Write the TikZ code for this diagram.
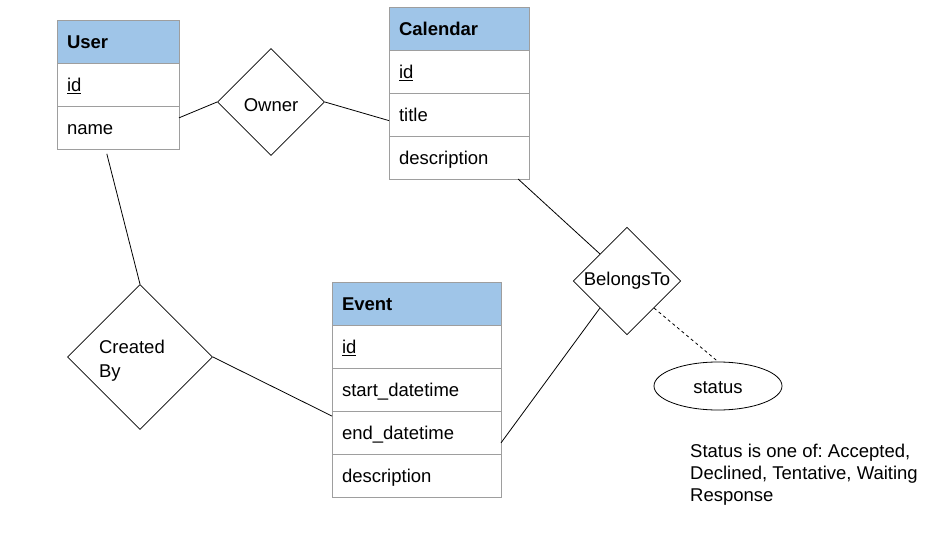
\documentclass[tikz,border=0pt]{standalone}
\usepackage{fontspec}
\setmainfont{Liberation Sans}
\usetikzlibrary{positioning,shapes.geometric}
\definecolor{headblue}{HTML}{9FC5E8}
\definecolor{tablegray}{HTML}{9E9E9E}
\frenchspacing
\tikzset{
  er font/.style = {font=\fontsize{18.5pt}{22pt}\selectfont},
  table cell/.style = {draw=tablegray, line width=0.8pt, outer sep=0pt, inner xsep=10pt, inner ysep=0pt,
    minimum height=43pt, text height=13.5pt, text depth=0pt, align=left, er font},
  table head/.style = {table cell, fill=headblue, font=\fontsize{18.5pt}{22pt}\selectfont\bfseries},
  relation/.style = {diamond, draw, line width=0.8pt, aspect=1, inner sep=1pt, er font},
  er link/.style = {line width=0.8pt},
}

\begin{document}
\begin{tikzpicture}[x=1pt, y=-1pt]
  \useasboundingbox (0,0) rectangle (947,540);

  %% entity User
  \node[table head, text width=102pt, anchor=north west] (user) at (57,20) {User};
  \node[table cell, text width=102pt, below=0pt of user] (user_id) {\underline{id}};
  \node[table cell, text width=102pt, below=0pt of user_id] (user_name) {name};

  %% entity Calendar
  \node[table head, text width=120pt, anchor=north west] (cal) at (389,7) {Calendar};
  \node[table cell, text width=120pt, below=0pt of cal] (cal_id) {\underline{id}};
  \node[table cell, text width=120pt, below=0pt of cal_id] (cal_title) {title};
  \node[table cell, text width=120pt, below=0pt of cal_title] (cal_desc) {description};

  %% entity Event
  \node[table head, text width=149pt, anchor=north west] (event) at (332,282) {Event};
  \node[table cell, text width=149pt, below=0pt of event] (event_id) {\underline{id}};
  \node[table cell, text width=149pt, below=0pt of event_id] (event_start) {start\_datetime};
  \node[table cell, text width=149pt, below=0pt of event_start] (event_end) {end\_datetime};
  \node[table cell, text width=149pt, below=0pt of event_end] (event_desc) {description};

  % relations
  \node[relation, minimum size=107pt, text height=19.5pt, text depth=0pt] (owner) at (271,102) {Owner};
  \node[relation, minimum size=107pt] (belongs) at (627,281) {BelongsTo};
  \node[relation, minimum size=145pt, text width=82pt, align=left, text height=20pt] (created) at (140,357)
    {Created\\[2pt]By};

  % attribute of BelongsTo
  \node[ellipse, draw, line width=0.8pt, minimum width=128pt, minimum height=48pt, er font,
    text height=15pt, text depth=0pt] (status) at (718,386) {status};

  % note
  \node[anchor=north west, align=left, inner sep=0pt, er font] (note) at (690,444)
    {Status is one of: Accepted,\\Declined, Tentative, Waiting\\Response};

  % draw links
  \draw[er link] (user_name.9) -- (owner.west);
  \draw[er link] (owner.east) -- (cal_title.185);
  \draw[er link] (cal_desc.-20) -- (belongs.135);
  \draw[er link] (belongs.225) -- (event_end.-7);
  \draw[er link, dashed] (belongs.-45) -- (status.north);
  \draw[er link, shorten <=5pt] (user_name.-120) -- (created.north);
  \draw[er link] (created.east) -- (event_end.169);
\end{tikzpicture}
\end{document}
